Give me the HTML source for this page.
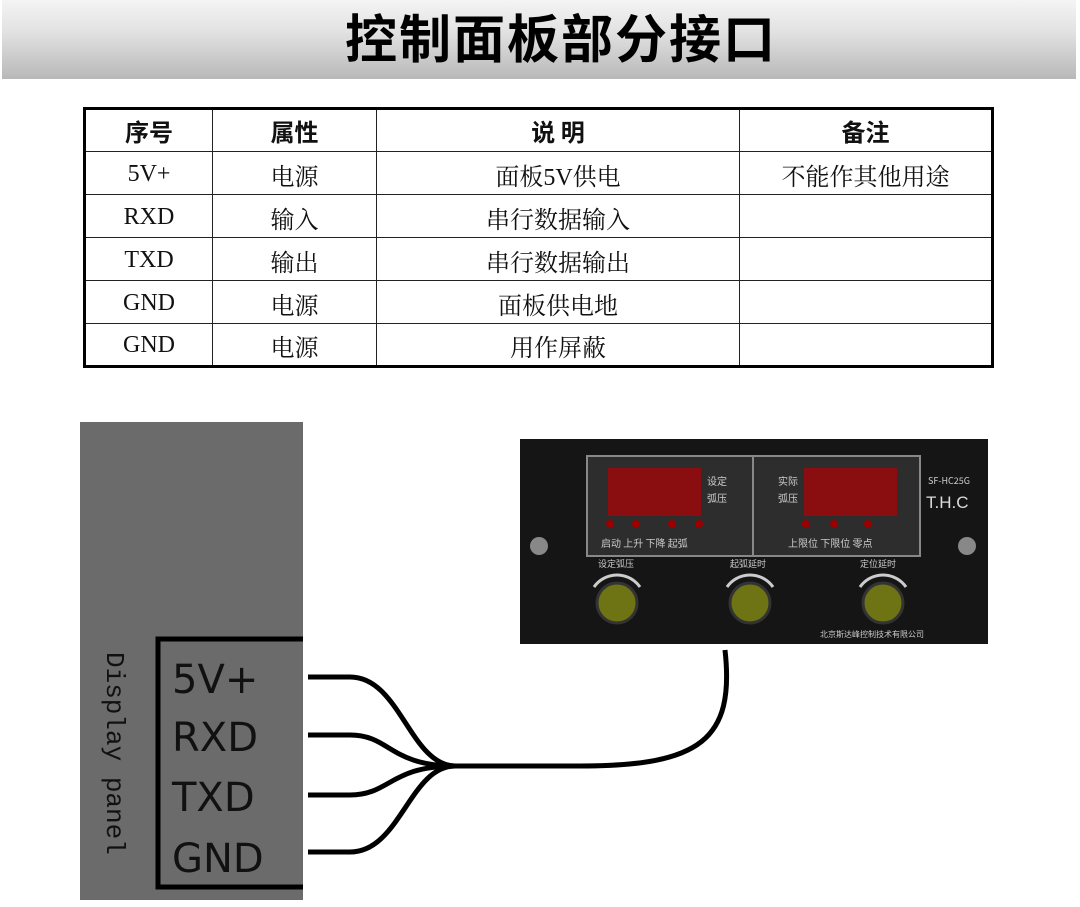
<!DOCTYPE html>
<html><head><meta charset="utf-8"><style>
body{margin:0;width:1080px;height:907px;background:#fff;position:relative;overflow:hidden;font-family:"Liberation Sans","Noto Sans CJK SC",sans-serif}
.title{position:absolute;left:2px;top:0;width:1074px;height:79px;background:linear-gradient(#f4f4f4,#e2e2e2 40%,#b8b8b8);}
.title span{position:absolute;left:44px;right:0;top:6px;text-align:center;font-size:52px;font-weight:bold;letter-spacing:2px;color:#000;font-family:"Noto Sans CJK SC",sans-serif;line-height:60px}
table{position:absolute;left:83px;top:107px;border-collapse:collapse;border:3px solid #000}
td{border:1.5px solid #222;height:43px;padding:2px 0 0 0;box-sizing:border-box;text-align:center;font-size:24px;font-family:"Liberation Serif","Noto Serif CJK SC",serif;color:#111;vertical-align:middle}
tr:first-child td{font-weight:bold;font-family:"Noto Sans CJK SC",sans-serif;font-size:24px;padding:0}
</style></head><body>
<div class="title"><span>控制面板部分接口</span></div>
<table>
<colgroup><col style="width:128px"><col style="width:164px"><col style="width:363px"><col style="width:253px"></colgroup>
<tr><td>序号</td><td>属性</td><td>说 明</td><td>备注</td></tr>
<tr><td>5V+</td><td>电源</td><td>面板5V供电</td><td>不能作其他用途</td></tr>
<tr><td>RXD</td><td>输入</td><td>串行数据输入</td><td></td></tr>
<tr><td>TXD</td><td>输出</td><td>串行数据输出</td><td></td></tr>
<tr><td>GND</td><td>电源</td><td>面板供电地</td><td></td></tr>
<tr><td>GND</td><td>电源</td><td>用作屏蔽</td><td></td></tr>
</table>
<svg style="position:absolute;left:0;top:0" width="1080" height="907">
<rect x="80" y="422" width="223" height="478" fill="#6b6b6b"/>
<path d="M303 639 H158 V887 H303" fill="none" stroke="#000" stroke-width="5"/>
<text transform="translate(107,652) rotate(90)" font-family="Liberation Mono,monospace" font-size="26" fill="#111">Display panel</text>
<g font-family="DejaVu Sans,sans-serif" font-size="40" fill="#111">
<text x="172" y="693">5V+</text><text x="172" y="751">RXD</text><text x="172" y="811">TXD</text><text x="172" y="872">GND</text></g>
<g fill="none" stroke="#000" stroke-width="5">
<path d="M308 677 H350 C400 677 410 765 455 766"/>
<path d="M308 735 H350 C390 735 390 766 455 766"/>
<path d="M308 795 H350 C390 795 390 766 455 766"/>
<path d="M308 852 H350 C400 852 410 766 455 766 H580 C700 766 735 740 725 650"/>
</g>
<rect x="520" y="439" width="468" height="205" fill="#151515"/>
<rect x="587" y="456" width="333" height="100" fill="#2d2d2d" stroke="#888" stroke-width="2"/>
<line x1="753" y1="456" x2="753" y2="556" stroke="#888" stroke-width="2"/>
<rect x="608" y="468" width="93" height="48" fill="#8a0e10"/>
<rect x="804" y="468" width="93" height="48" fill="#8a0e10"/>
<g font-family="Noto Sans CJK SC,sans-serif" font-size="10" fill="#ccc">
<text x="707" y="485">设定</text><text x="707" y="502">弧压</text>
<text x="778" y="485">实际</text><text x="778" y="502">弧压</text>
<text x="601" y="547">启动 上升 下降 起弧</text>
<text x="788" y="547">上限位 下限位 零点</text>
<text x="598" y="567" font-size="9">设定弧压</text><text x="730" y="567" font-size="9">起弧延时</text><text x="860" y="567" font-size="9">定位延时</text>
<text x="820" y="637" font-size="8">北京斯达峰控制技术有限公司</text>
<text x="928" y="484" font-size="9">SF-HC25G</text></g>
<text x="926" y="508" font-family="Liberation Sans,sans-serif" font-size="17" fill="#ddd">T.H.C</text>
<g fill="#9a0000"><circle cx="610" cy="524" r="4"/><circle cx="636" cy="524" r="4"/><circle cx="672" cy="524" r="4"/><circle cx="699" cy="524" r="4"/><circle cx="806" cy="524" r="4"/><circle cx="834" cy="524" r="4"/><circle cx="868" cy="524" r="4"/></g>
<circle cx="539" cy="546" r="9" fill="#888"/><circle cx="967" cy="546" r="9" fill="#888"/>
<g fill="#6e7414" stroke="#333" stroke-width="3"><circle cx="617" cy="603" r="20"/><circle cx="750" cy="603" r="20"/><circle cx="883" cy="603" r="20"/></g>
<g fill="none" stroke="#ccc" stroke-width="3"><path d="M594 587 A28 28 0 0 1 640 587"/><path d="M727 587 A28 28 0 0 1 773 587"/><path d="M860 587 A28 28 0 0 1 906 587"/></g>
</svg>
</body></html>
